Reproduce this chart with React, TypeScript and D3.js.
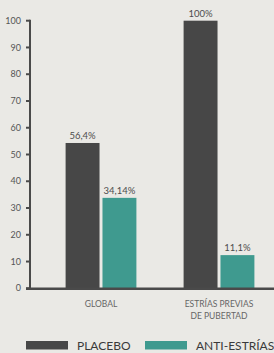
import * as d3 from "d3";

const categories = ["GLOBAL", "ESTRÍAS PREVIAS<br>DE PUBERTAD"];
const series = ["PLACEBO", "ANTI-ESTRÍAS"];
const placeboValues = [54.3, 100];
const antiValues = [33.8, 12.4];
const placeboLabels = ["56,4%", "100%"];
const antiLabels = ["34,14%", "11,1%"];
const yTicks = [0, 10, 20, 30, 40, 50, 60, 70, 80, 90, 100];

const colors = ["#474747", "#3f9a8f"];
const font = "Lato, 'Open Sans', sans-serif";

export default function App() {
    const width = 274;
    const height = 353;

    const scaleY = d3.scaleLinear().domain([0, 100]).range([288.3, 20.7]);
    const scaleX = d3
        .scaleBand<string>()
        .domain(categories)
        .range([42, 278])
        .paddingInner(0.4)
        .paddingOuter(0.2);
    const scaleSub = d3
        .scaleBand<string>()
        .domain(series)
        .range([0, scaleX.bandwidth()])
        .paddingInner(0.08);

    const values = [placeboValues, antiValues];
    const labels = [placeboLabels, antiLabels];

    return (
        <svg
            width={width}
            height={height}
            style={{ position: "absolute", left: 0, top: 0, background: "#eae9e5" }}
            fontFamily={font}
        >
            {/* y axis */}
            <line x1={30} x2={30} y1={scaleY(100) - 1} y2={scaleY(0) + 1.5} stroke="#4a4a4a" strokeWidth={2} />
            {yTicks.map((t) => (
                <g key={t}>
                    <line x1={26} x2={30} y1={scaleY(t)} y2={scaleY(t)} stroke="#4a4a4a" strokeWidth={2} />
                    <text x={21} y={scaleY(t)} dy="0.35em" textAnchor="end" fontSize={9} fill="#555">
                        {t}
                    </text>
                </g>
            ))}

            {/* bars */}
            {series.map((s, si) =>
                categories.map((c, ci) => {
                    const x = (scaleX(c) || 0) + (scaleSub(s) || 0);
                    const y = scaleY(values[si][ci]);
                    return (
                        <g key={`${s}-${c}`}>
                            <rect
                                x={x}
                                y={y}
                                width={scaleSub.bandwidth()}
                                height={scaleY(0) - y}
                                fill={colors[si]}
                            />
                            <text
                                x={x + scaleSub.bandwidth() / 2}
                                y={y - 4}
                                textAnchor="middle"
                                fontSize={9.5}
                                fill="#4d4d4d"
                            >
                                {labels[si][ci]}
                            </text>
                        </g>
                    );
                })
            )}

            {/* baseline */}
            <line x1={26} x2={width} y1={scaleY(0) + 0.5} y2={scaleY(0) + 0.5} stroke="#4a4a4a" strokeWidth={2.5} />

            {/* category labels */}
            {categories.map((c) => (
                <text
                    key={c}
                    x={(scaleX(c) || 0) + scaleX.bandwidth() / 2}
                    y={306.5}
                    textAnchor="middle"
                    fontSize={8.5}
                    fill="#666"
                >
                    {c.split("<br>").map((line, i) => (
                        <tspan key={i} x={(scaleX(c) || 0) + scaleX.bandwidth() / 2} dy={i === 0 ? 0 : 12.5}>
                            {line}
                        </tspan>
                    ))}
                </text>
            ))}

            {/* legend */}
            {series.map((s, i) => {
                const lx = i === 0 ? 26 : 145;
                return (
                    <g key={s} transform={`translate(${lx}, 341)`}>
                        <rect width={42} height={8.5} fill={colors[i]} />
                        <text x={51} y={9} fontSize={12} fill="#3a3a3a">
                            {s}
                        </text>
                    </g>
                );
            })}
        </svg>
    );
}
